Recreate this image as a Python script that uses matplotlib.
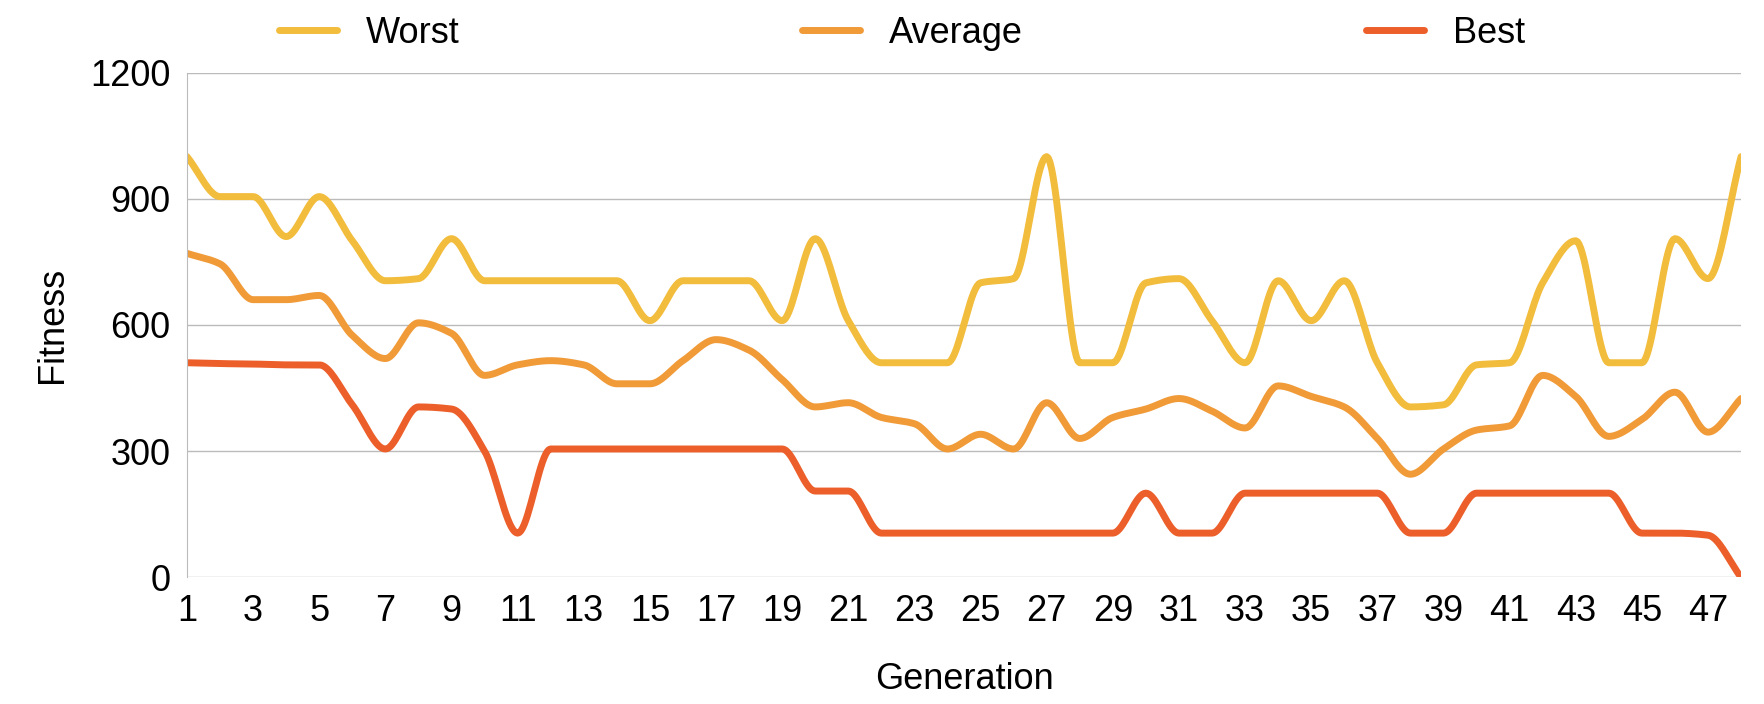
import numpy as np
import matplotlib
matplotlib.use("Agg")
import matplotlib.pyplot as plt

plt.rcParams['font.family'] = ['Liberation Sans', 'DejaVu Sans']

generations = list(range(1, 49))
worst = [1000, 905, 905, 810, 905, 800, 705, 710, 805, 705, 705, 705, 705, 705, 610, 705,
         705, 705, 610, 805, 610, 510, 510, 510, 700, 710, 1000, 510, 510, 700, 710, 610,
         510, 705, 610, 705, 510, 405, 410, 505, 510, 700, 800, 510, 510, 805, 710, 1000]
average = [770, 745, 660, 660, 670, 575, 520, 605, 580, 480, 505, 515, 505, 460, 460, 515,
           565, 540, 470, 405, 415, 380, 365, 305, 340, 305, 415, 330, 380, 400, 425, 395,
           355, 455, 430, 405, 330, 245, 305, 350, 360, 480, 430, 335, 375, 440, 345, 425]
best = [510, 508, 507, 505, 505, 410, 305, 405, 400, 300, 105, 305, 305, 305, 305, 305,
        305, 305, 305, 205, 205, 105, 105, 105, 105, 105, 105, 105, 105, 200, 105, 105,
        200, 200, 200, 200, 200, 105, 105, 200, 200, 200, 200, 200, 105, 105, 100, 0]

def smooth(x, y, n=20):
    x = np.asarray(x, float); y = np.asarray(y, float)
    m = len(x)
    d = np.diff(y) / np.diff(x)
    t = np.zeros(m)
    for i in range(1, m - 1):
        if d[i-1] * d[i] <= 0:
            t[i] = 0
        else:
            t[i] = 2 / (1/d[i-1] + 1/d[i])
    t[0] = d[0]; t[-1] = d[-1]
    xs, ys = [], []
    for i in range(m - 1):
        h = x[i+1] - x[i]
        s = np.linspace(0, 1, n, endpoint=False)
        h00 = 2*s**3 - 3*s**2 + 1; h10 = s**3 - 2*s**2 + s
        h01 = -2*s**3 + 3*s**2; h11 = s**3 - s**2
        xs.append(x[i] + s*h)
        ys.append(h00*y[i] + h10*h*t[i] + h01*y[i+1] + h11*h*t[i+1])
    xs.append([x[-1]]); ys.append([y[-1]])
    return np.concatenate(xs), np.concatenate(ys)

fig = plt.figure(figsize=(17.64, 7.04), dpi=100)
ax = fig.add_axes([0.106, 0.18, 0.881, 0.717])

series = [("Worst", worst, "#F2BC3C"), ("Average", average, "#F09A38"), ("Best", best, "#EC5F2A")]
for name, vals, col in series:
    xs, ys = smooth(generations, vals)
    ax.plot(xs, ys, color=col, lw=5, label=name, solid_capstyle='round')

ax.set_xlim(1, 48)
ax.set_ylim(0, 1200)
ax.set_yticks([0, 300, 600, 900, 1200])
ax.set_xticks(list(range(1, 48, 2)))
ax.grid(axis='y', color='#BBBBBB', lw=1)
ax.set_axisbelow(True)
for s in ['top', 'right', 'bottom']:
    ax.spines[s].set_visible(False)
ax.spines['left'].set_color('#BBBBBB')
ax.tick_params(length=0, labelsize=26, pad=12)
ax.set_xlabel("Generation", fontsize=26, labelpad=24)
ax.set_ylabel("Fitness", fontsize=26, labelpad=14)
ax.legend(loc='lower center', bbox_to_anchor=(0.46, 1.0), ncol=3, frameon=False,
          fontsize=26, columnspacing=9.5, handlelength=1.6, borderaxespad=0.2)
fig.savefig("out.png", dpi=100)
